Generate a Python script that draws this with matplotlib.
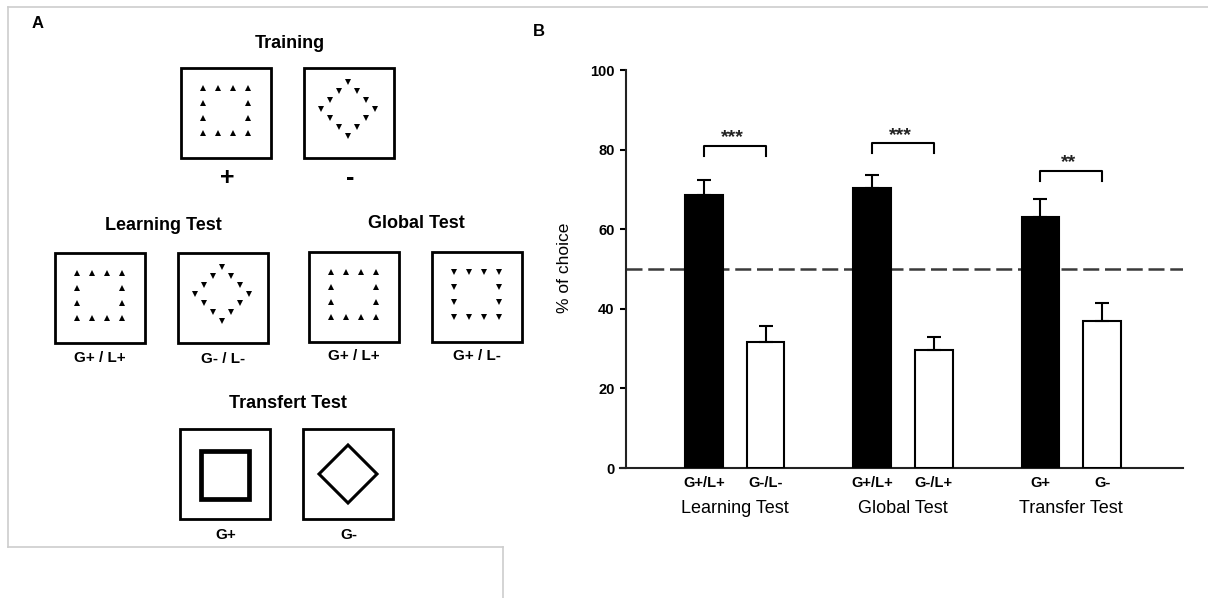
import matplotlib
matplotlib.use('Agg')
import matplotlib.pyplot as plt
from matplotlib.patches import Rectangle, Polygon
import numpy as np

plt.rcParams['font.family'] = ['Liberation Sans', 'DejaVu Sans']

# panel B values
groups = ['Learning Test', 'Global Test', 'Transfer Test']
plus_labels = ['G+/L+', 'G+/L+', 'G+']
minus_labels = ['G-/L-', 'G-/L+', 'G-']
plus_mean = [68.6, 70.4, 63.1]
plus_sem = [3.8, 3.1, 4.5]
minus_mean = [31.6, 29.7, 37.0]
minus_sem = [4.0, 3.3, 4.5]
signif = ['***', '***', '**']
bracket_y = [81.0, 81.6, 74.6]
chance = 50

fig = plt.figure(figsize=(12.08, 5.98), dpi=100)

# ---- panel A : schematic drawn in pixel coords on a background axes
bg = fig.add_axes([0, 0, 1, 1])
bg.set_xlim(0, 1208)
bg.set_ylim(598, 0)
bg.axis('off')

frame = '#cdcdcd'
bg.plot([8, 1208], [7, 7], color=frame, lw=1.2)
bg.plot([8, 8], [7, 547], color=frame, lw=1.2)
bg.plot([8, 503], [547, 547], color=frame, lw=1.2)
bg.plot([503, 503], [547, 598], color=frame, lw=1.2)


def box(x0, y0, size=90):
    bg.add_patch(Rectangle((x0, y0), size, size, fill=False, lw=2, ec='k'))


def square_dots(x0, y0, marker):
    xs = x0 + 21.5 + 15 * np.arange(4)
    ys = y0 + 20 + 15 * np.arange(4)
    pts = [(xx, yy) for j, yy in enumerate(ys) for i, xx in enumerate(xs)
           if i in (0, 3) or j in (0, 3)]
    px, py = zip(*pts)
    bg.plot(px, py, ls='none', marker=marker, ms=4.6, mew=0, color='k')


def diamond_dots(x0, y0, marker):
    cx, cy, r = x0 + 44, y0 + 41, 27
    corners = [(0, -r), (r, 0), (0, r), (-r, 0)]
    pts = []
    for k in range(4):
        a = corners[k]
        b = corners[(k + 1) % 4]
        for t in (0, 1 / 3, 2 / 3):
            pts.append((cx + a[0] + (b[0] - a[0]) * t, cy + a[1] + (b[1] - a[1]) * t))
    px, py = zip(*pts)
    bg.plot(px, py, ls='none', marker=marker, ms=4.6, mew=0, color='k')


head = dict(ha='center', va='center', fontsize=13, fontweight='bold')
lab = dict(ha='center', va='center', fontsize=11, fontweight='bold')

bg.text(38, 24, 'A', ha='center', va='center', fontsize=12, fontweight='bold')
bg.text(539, 32, 'B', ha='center', va='center', fontsize=12, fontweight='bold')

# training
bg.text(290, 43, 'Training', **head)
box(181, 68)
square_dots(181, 68, '^')
box(304, 68)
diamond_dots(304, 68, 'v')
bg.text(227, 178, '+', ha='center', va='center', fontsize=18, fontweight='bold')
bg.text(350, 178, '-', ha='center', va='center', fontsize=18, fontweight='bold')

# learning / global tests
bg.text(163, 225, 'Learning Test', **head)
bg.text(416, 223, 'Global Test', **head)
box(55, 253)
square_dots(55, 253, '^')
box(178, 253)
diamond_dots(178, 253, 'v')
box(309, 252)
square_dots(309, 252, '^')
box(432, 252)
square_dots(432, 252, 'v')
bg.text(100, 358, 'G+ / L+', **lab)
bg.text(223, 359, 'G- / L-', **lab)
bg.text(354, 356, 'G+ / L+', **lab)
bg.text(477, 356, 'G+ / L-', **lab)

# transfer test
bg.text(288, 403, 'Transfert Test', **head)
box(180, 429)
bg.add_patch(Rectangle((180 + 20.5, 429 + 21.5), 48, 48, fill=False, lw=3.4, ec='k'))
box(303, 429)
dcx, dcy, dr = 303 + 45, 429 + 45, 29
bg.add_patch(Polygon([(dcx, dcy - dr), (dcx + dr, dcy), (dcx, dcy + dr), (dcx - dr, dcy)],
                     closed=True, fill=False, lw=2.2, ec='k'))
bg.text(226, 535, 'G+', **lab)
bg.text(349, 535, 'G-', **lab)

# ---- panel B : bar chart
ax = fig.add_axes([620 / 1208, (598 - 468) / 598, 563 / 1208, 398 / 598])
x = np.arange(1, len(groups) + 1)
off = 0.1837
w = 0.223
x_left, x_right = 0.318, 3.664
spine_x = 0.3536

ax.hlines(chance, spine_x, x_right, color='#3a3a3a', lw=1.8,
          linestyles=[(0, (6.4, 2.3))], zorder=1)
ax.bar(x - off, plus_mean, w, color='k', edgecolor='k', lw=1.5, zorder=3)
ax.bar(x + off, minus_mean, w, color='white', edgecolor='k', lw=1.5, zorder=3)
zeros = np.zeros(len(x))
ax.errorbar(x - off, plus_mean, yerr=[zeros, plus_sem], fmt='none', ecolor='k',
            elinewidth=1.5, capsize=5, capthick=1.5, zorder=4)
ax.errorbar(x + off, minus_mean, yerr=[zeros, minus_sem], fmt='none', ecolor='k',
            elinewidth=1.5, capsize=5, capthick=1.5, zorder=4)

for i, g in enumerate(x):
    yb = bracket_y[i]
    ax.plot([g - off, g - off, g + off, g + off], [yb - 2.5, yb, yb, yb - 2.5],
            color='k', lw=1.5)
    ax.text(g - 0.015, yb + 0.9, signif[i], ha='center', va='baseline',
            fontsize=14, fontweight='bold', color='#222222')
    ax.text(g, -0.103, groups[i], transform=ax.get_xaxis_transform(),
            ha='center', va='center', fontsize=13)

ax.set_xlim(x_left, x_right)
ax.set_ylim(0, 100)
ax.spines['top'].set_visible(False)
ax.spines['right'].set_visible(False)
ax.spines['left'].set_position(('data', spine_x))
ax.spines['left'].set_linewidth(1.5)
ax.spines['bottom'].set_linewidth(1.5)
ax.spines['left'].set_color('#222222')
ax.spines['bottom'].set_color('#222222')

ax.set_yticks([0, 20, 40, 60, 80, 100])
ax.tick_params(axis='y', direction='out', length=4.3, width=1.5, labelsize=10.5, pad=4)
ax.set_xticks(np.concatenate([x - off, x + off]))
ax.set_xticklabels(plus_labels + minus_labels)
ax.tick_params(axis='x', length=0, labelsize=10.5, pad=6)
for t in ax.get_yticklabels() + ax.get_xticklabels():
    t.set_fontweight('bold')

ax.set_ylabel('% of choice', fontsize=12.5)
ax.yaxis.set_label_coords(-0.086, 0.5025)

fig.savefig('out.png', dpi=100)
